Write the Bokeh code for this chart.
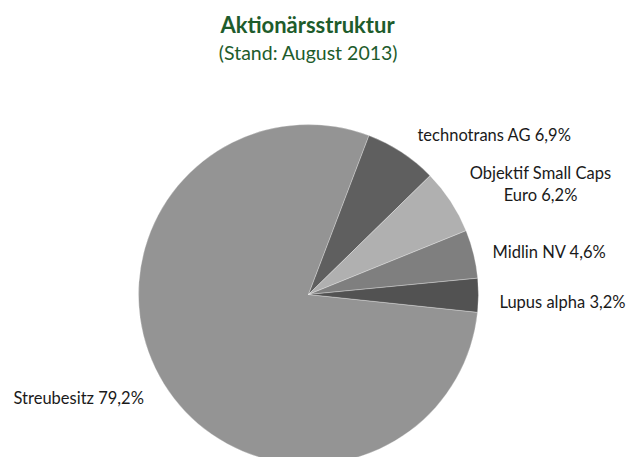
import math
from bokeh.plotting import figure
from bokeh.models import Range1d, ColumnDataSource
from bokeh.core.properties import value
from bokeh.embed import file_html
from bokeh.resources import INLINE

# ---- data ----
categories = ["Streubesitz", "technotrans AG", "Objektif Small Caps Euro", "Midlin NV", "Lupus alpha"]
shares = [79.2, 6.9, 6.2, 4.6, 3.2]
label_texts = ["Streubesitz 79,2%", "technotrans AG 6,9%", "Objektif Small Caps\nEuro 6,2%",
               "Midlin NV 4,6%", "Lupus alpha 3,2%"]
colors = ["#949494", "#5f5f5f", "#b0b0b0", "#7f7f7f", "#525252"]

title = "Aktionärsstruktur"
subtitle = "(Stand: August 2013)"

# ---- layout ----
W, H = 628, 457
cx, cy = 308, H - 294
R = 170
first_slice_angle = 96.0  # degrees clockwise from 12 o'clock

# label anchor positions (layout, pixels from top-left) and alignment
label_pos = [(13, 397, "left"), (417, 134, "left"), (540, 172, "center"),
             (492, 251, "left"), (625, 301, "right")]

total = sum(shares)
starts, ends = [], []
cum = 0.0
for v in shares:
    s = math.radians(90 - first_slice_angle - cum / total * 360)
    e = math.radians(90 - first_slice_angle - (cum + v) / total * 360)
    starts.append(s)
    ends.append(e)
    cum += v

src = ColumnDataSource(dict(cat=categories, val=shares, start=starts, end=ends, color=colors))

p = figure(width=W, height=H, x_range=Range1d(0, W), y_range=Range1d(0, H),
           output_backend="svg", toolbar_location=None, min_border=0)
p.axis.visible = False
p.grid.visible = False
p.outline_line_color = None
p.background_fill_color = "white"
p.border_fill_color = "white"

p.wedge(x=cx, y=cy, radius=R, start_angle="start", end_angle="end", direction="clock",
        fill_color="color", line_color="white", line_width=0.6, line_alpha=0.5, source=src)

font = value("Lato")
for txt, (lx, ly, al) in zip(label_texts, label_pos):
    lines = txt.split("\n")
    for i, ln in enumerate(lines):
        p.text(x=[lx], y=[H - ly - i * 22], text=[ln], text_font=font, text_font_size="16.5px",
               text_color="#1a1a1a", text_align=al, text_baseline="middle")

p.text(x=[307], y=[H - 24], text=[title], text_font=font, text_font_size="22px",
       text_font_style="bold", text_color="#1e5c2c", text_align="center", text_baseline="middle")
p.text(x=[308], y=[H - 52], text=[subtitle], text_font=font, text_font_size="19.5px",
       text_color="#1e5c2c", text_align="center", text_baseline="middle")

open("out.html", "w").write(file_html(p, INLINE))
